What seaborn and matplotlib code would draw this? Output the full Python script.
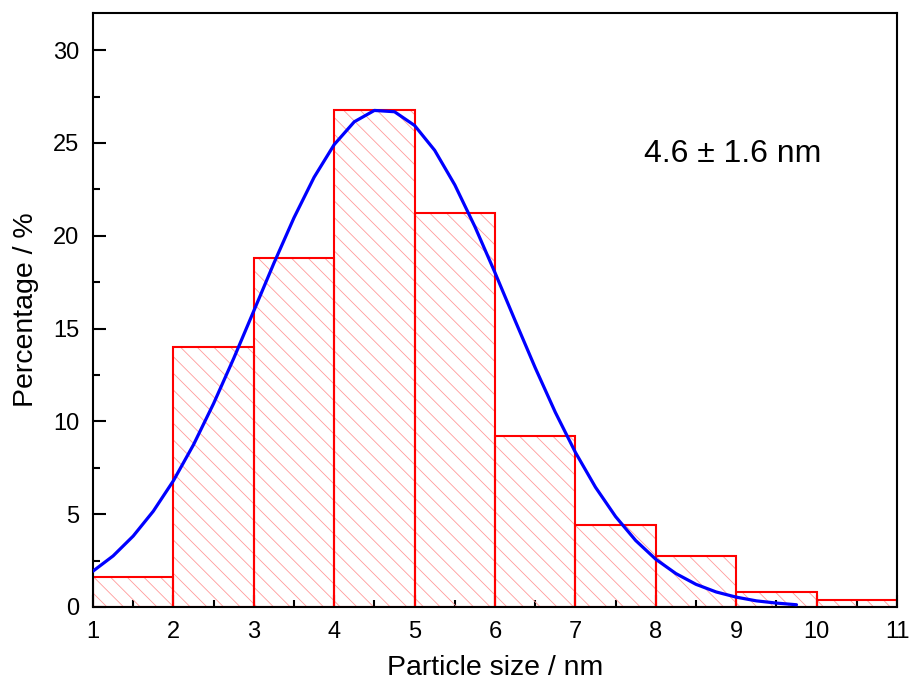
import numpy as np
import matplotlib
matplotlib.use("Agg")
import matplotlib.pyplot as plt
from matplotlib.ticker import MultipleLocator
import seaborn as sns

# Histogramm der Partikelgrößen (Prozent je 1-nm-Klasse)
bin_edges = [1, 2, 3, 4, 5, 6, 7, 8, 9, 10, 11]
percentages = [1.6, 14.0, 18.8, 26.8, 21.2, 9.2, 4.4, 2.75, 0.78, 0.38]

# Gauß-Fit
fit_x = [1.00, 1.25, 1.50, 1.75, 2.00, 2.25, 2.50, 2.75, 3.00, 3.25, 3.50, 3.75,
         4.00, 4.25, 4.50, 4.75, 5.00, 5.25, 5.50, 5.75, 6.00, 6.25, 6.50, 6.75,
         7.00, 7.25, 7.50, 7.75, 8.00, 8.25, 8.50, 8.75, 9.00, 9.25, 9.50, 9.75]
fit_y = [1.93, 2.75, 3.82, 5.16, 6.80, 8.74, 10.96, 13.39, 15.95, 18.52, 20.97, 23.15,
         24.91, 26.14, 26.75, 26.68, 25.94, 24.60, 22.74, 20.49, 18.01, 15.43, 12.89, 10.49,
         8.33, 6.45, 4.87, 3.58, 2.57, 1.80, 1.22, 0.81, 0.53, 0.33, 0.21, 0.12]

x_ticks = [1, 2, 3, 4, 5, 6, 7, 8, 9, 10, 11]
y_ticks = [0, 5, 10, 15, 20, 25, 30]
label_text = "4.6 ± 1.6 nm"

sns.set_style("ticks")
plt.rcParams["font.family"] = ["Liberation Sans", "DejaVu Sans"]
plt.rcParams["hatch.linewidth"] = 0.6
plt.rcParams["axes.linewidth"] = 1.5
plt.rcParams["text.color"] = "black"
plt.rcParams["axes.labelcolor"] = "black"
plt.rcParams["xtick.color"] = "black"
plt.rcParams["ytick.color"] = "black"

fig = plt.figure(figsize=(9.09, 6.91), dpi=100)
ax = fig.add_axes([0.1023, 0.1216, 0.8845, 0.8596])

bin_centers = [(a + b) / 2 for a, b in zip(bin_edges[:-1], bin_edges[1:])]

# Schraffur in hellrot
sns.histplot(x=bin_centers, weights=percentages, bins=bin_edges, ax=ax,
             stat="count", element="bars", fill=True, color="none",
             edgecolor="#ff9a9a", linewidth=0)
for p in ax.patches:
    p.set_facecolor("none")
    p.set_hatch("\\\\")
    p.set_edgecolor("#ff9a9a")
    p.set_linewidth(0)

# Rote Umrisse
n_hatch = len(ax.patches)
sns.histplot(x=bin_centers, weights=percentages, bins=bin_edges, ax=ax,
             stat="count", element="bars", fill=False, color="red", linewidth=1.5)
for p in ax.patches[n_hatch:]:
    p.set_edgecolor("red")

# Gauß-Kurve
sns.lineplot(x=fit_x, y=fit_y, ax=ax, color="#0000ff", linewidth=2.3, zorder=5)
ax.lines[-1].set_solid_joinstyle("round")

ax.set_xlim(1, 11)
ax.set_ylim(0, 32)
ax.set_xticks(x_ticks)
ax.set_yticks(y_ticks)
ax.xaxis.set_minor_locator(MultipleLocator(0.5))
ax.yaxis.set_minor_locator(MultipleLocator(2.5))
ax.tick_params(which="major", direction="in", length=9, width=1.5,
               labelsize=17, pad=10, top=False, right=False, colors="black")
ax.tick_params(which="minor", direction="in", length=5, width=1.5,
               top=False, right=False, colors="black")
for s in ax.spines.values():
    s.set_visible(True)
    s.set_color("black")

ax.set_xlabel("Particle size / nm", fontsize=20.5, labelpad=9, color="black")
ax.set_ylabel("Percentage / %", fontsize=20.5, labelpad=10, color="black")

ax.text(7.85, 24.4, label_text, fontsize=23, va="center", ha="left", color="black")

fig.savefig("out.png", dpi=100)
